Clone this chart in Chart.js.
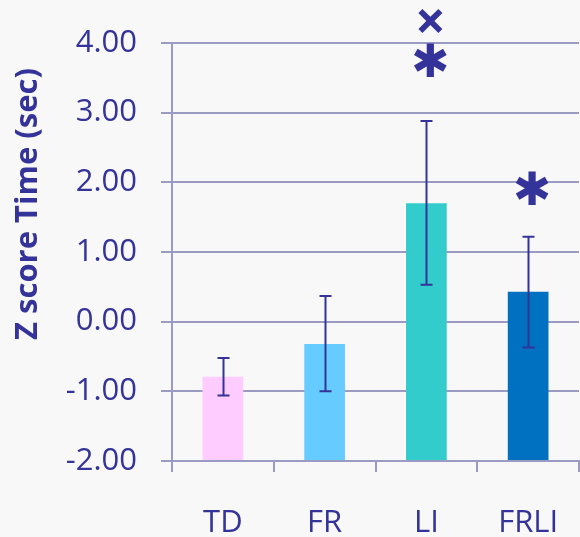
<!DOCTYPE html>
<html>
<head>
<meta charset="utf-8">
<script src="https://cdn.jsdelivr.net/npm/chart.js@4"></script>
<style>
  html, body { margin: 0; padding: 0; background: #f8f8f8; }
  #wrap { width: 580px; height: 537px; }
</style>
</head>
<body>
<div id="wrap"><canvas id="chart" width="580" height="537"></canvas></div>
<script>
// Group labels and mean Z scores with their error-bar limits
const categories = ['TD', 'FR', 'LI', 'FRLI'];
const meanZ   = [-0.79, -0.32, 1.70, 0.43];
const errLow  = [-1.06, -1.00, 0.53, -0.37];
const errHigh = [-0.52, 0.37, 2.88, 1.22];

// Significance markers (value on the Z axis where each symbol sits)
const starAt  = [null, null, 3.75, 1.92];
const crossAt = [null, null, 4.33, null];

// Y axis tick values
const yTicks = [-2, -1, 0, 1, 2, 3, 4];

const barColors = ['#ffccff', '#66ccff', '#33cccc', '#0070c0'];
const ink = '#333399';
const gridColor = '#9a9ac2';
const fontFamily = '"Open Sans", "Liberation Sans", sans-serif';

// draw a glyph with its ink box centred on (cx, cy)
function centredGlyph(ctx, text, cx, cy) {
  ctx.textAlign = 'left';
  ctx.textBaseline = 'alphabetic';
  const m = ctx.measureText(text);
  const w = m.actualBoundingBoxLeft + m.actualBoundingBoxRight;
  const h = m.actualBoundingBoxAscent + m.actualBoundingBoxDescent;
  ctx.fillText(text, cx - w / 2 + m.actualBoundingBoxLeft, cy + h / 2 - m.actualBoundingBoxDescent);
}

const overlay = {
  id: 'overlay',
  afterDatasetsDraw(chart) {
    const { ctx, scales: { x, y } } = chart;
    ctx.save();
    // error bars
    ctx.strokeStyle = ink;
    ctx.lineWidth = 2;
    categories.forEach((c, i) => {
      const px = Math.round(x.getPixelForValue(i)) + 0.5;
      const t = y.getPixelForValue(errHigh[i]);
      const b = y.getPixelForValue(errLow[i]);
      ctx.beginPath();
      ctx.moveTo(px, t); ctx.lineTo(px, b);
      ctx.moveTo(px - 6, t); ctx.lineTo(px + 6, t);
      ctx.moveTo(px - 6, b); ctx.lineTo(px + 6, b);
      ctx.stroke();
    });
    // significance symbols
    ctx.fillStyle = ink;
    categories.forEach((c, i) => {
      const px = x.getPixelForValue(i) + 4;
      if (starAt[i] !== null) {
        ctx.font = 'bold 46px "DejaVu Sans"';
        centredGlyph(ctx, '\u2731', px, y.getPixelForValue(starAt[i]));
      }
      if (crossAt[i] !== null) {
        ctx.font = 'bold 54px ' + fontFamily;
        centredGlyph(ctx, '\u00d7', px, y.getPixelForValue(crossAt[i]));
      }
    });
    // axis title
    ctx.translate(28, 204);
    ctx.rotate(-Math.PI / 2);
    ctx.textAlign = 'center';
    ctx.textBaseline = 'middle';
    ctx.font = 'bold 31px ' + fontFamily;
    ctx.fillText('Z score Time (sec)', 0, 0);
    ctx.restore();
  }
};

new Chart(document.getElementById('chart'), {
  type: 'bar',
  data: {
    labels: categories,
    datasets: [{
      data: meanZ,
      base: yTicks[0],
      backgroundColor: barColors,
      borderWidth: 0,
      barPercentage: 0.4,
      categoryPercentage: 1.0
    }]
  },
  options: {
    responsive: false,
    devicePixelRatio: 1,
    animation: false,
    layout: { padding: { top: 43, right: 1, left: 0, bottom: 0 } },
    plugins: {
      legend: { display: false },
      tooltip: { enabled: false }
    },
    scales: {
      x: {
        offset: true,
        grid: {
          offset: true,
          drawOnChartArea: false,
          drawTicks: true,
          tickLength: 11,
          color: gridColor,
          lineWidth: 2
        },
        border: { display: true, color: gridColor, width: 2 },
        ticks: {
          color: ink,
          font: { family: fontFamily, size: 31 },
          padding: 33,
          maxRotation: 0
        },
        afterFit(scale) {
          scale.height = 76;
          scale.paddingLeft = 0;
          scale.paddingRight = 0;
        }
      },
      y: {
        min: yTicks[0],
        max: yTicks[yTicks.length - 1],
        afterBuildTicks(scale) { scale.ticks = yTicks.map(v => ({ value: v })); },
        grid: {
          color: gridColor,
          lineWidth: 2,
          tickLength: 11
        },
        border: { display: true, color: gridColor, width: 2 },
        ticks: {
          color: ink,
          font: { family: fontFamily, size: 31 },
          padding: 24,
          callback: v => v.toFixed(2)
        },
        afterFit(scale) { scale.width = 172; }
      }
    }
  },
  plugins: [overlay]
});
</script>
</body>
</html>
